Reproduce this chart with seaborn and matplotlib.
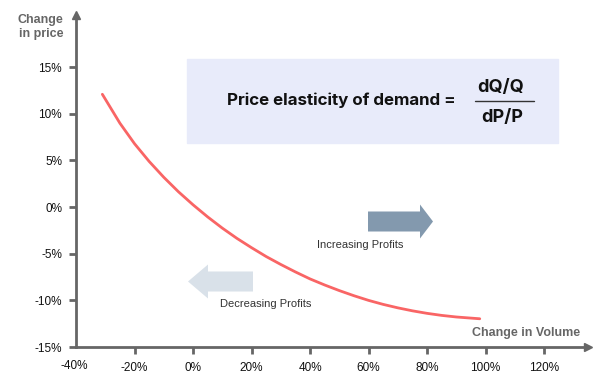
import matplotlib
matplotlib.use("Agg")
import matplotlib.pyplot as plt
from matplotlib.patches import FancyArrow, Rectangle
import seaborn as sns
import pandas as pd

# values
volume_change = [-31, -25, -20, -15, -10, -5, 0, 5, 10, 15, 20, 25, 30, 35, 40,
                 45, 50, 55, 60, 65, 70, 75, 80, 85, 90, 95, 98]
price_change = [12.1, 9.0, 6.8, 4.9, 3.2, 1.65, 0.25, -1.05, -2.25, -3.35, -4.35,
                -5.3, -6.15, -6.95, -7.7, -8.35, -8.95, -9.5, -10.0, -10.43, -10.8,
                -11.12, -11.39, -11.61, -11.78, -11.9, -11.97]

x_ticks = [-40, -20, 0, 20, 40, 60, 80, 100, 120]
y_ticks = [-15, -10, -5, 0, 5, 10, 15]

df = pd.DataFrame({"volume": volume_change, "price": price_change})

sns.set_style("white")
plt.rcParams["font.family"] = ["Liberation Sans", "DejaVu Sans"]
plt.rcParams["xtick.bottom"] = True
plt.rcParams["ytick.left"] = True

axis_col = "#666666"

fig = plt.figure(figsize=(6, 3.8), dpi=100)
ax = fig.add_axes([0.1267, 0.0868, 0.98 - 0.1267, 0.9605 - 0.0868])

sns.lineplot(data=df, x="volume", y="price", ax=ax, color="#F96565", linewidth=2)

ax.set_xlim(-40, 135)
ax.set_ylim(-15, 20.6)
ax.set_xticks(x_ticks[1:])
ax.set_xticklabels([f"{v}%" for v in x_ticks[1:]])
ax.set_yticks(y_ticks)
ax.set_yticklabels([f"{v}%" for v in y_ticks])
ax.set_xlabel("")
ax.set_ylabel("")
ax.tick_params(axis="both", bottom=True, left=True, length=5, width=2, color=axis_col,
               labelsize=8.5, labelcolor="#111111", direction="out", pad=5)
ax.tick_params(axis="x", pad=6)

for side in ["top", "right"]:
    ax.spines[side].set_visible(False)
for side in ["left", "bottom"]:
    ax.spines[side].set_color(axis_col)
    ax.spines[side].set_linewidth(2)

# axis arrowheads
ax.plot(1, 0, ">", color=axis_col, markersize=6, transform=ax.transAxes, clip_on=False)
ax.plot(0, 1, "^", color=axis_col, markersize=6, transform=ax.transAxes, clip_on=False)

# -40% label sits at the corner
fig.text(0.1233, 1 - 366 / 380, "-40%", ha="center", va="center", fontsize=8.5, color="#111111")

fig.text(0.068, 1 - 27 / 380, "Change\nin price", ha="center", va="center",
         fontsize=9, fontweight="bold", color=axis_col, linespacing=1.2)
fig.text(580 / 600, 1 - 333 / 380, "Change in Volume", ha="right", va="center",
         fontsize=9, fontweight="bold", color=axis_col)

# formula box
fig.patches.append(Rectangle((187 / 600, 1 - 143 / 380), 371 / 600, 84 / 380,
                             transform=fig.transFigure, color="#E8EBFA", zorder=0))
fig.text(341 / 600, 1 - 100 / 380, "Price elasticity of demand =", ha="center", va="center",
         fontsize=12.2, fontweight="bold", color="#111111", family=["Inter", "DejaVu Sans"])
fig.text(501 / 600, 1 - 87 / 380, "dQ/Q", ha="center", va="center",
         fontsize=13, fontweight="bold", color="#111111", family=["Inter", "DejaVu Sans"])
fig.text(502 / 600, 1 - 117 / 380, "dP/P", ha="center", va="center",
         fontsize=13, fontweight="bold", color="#111111", family=["Inter", "DejaVu Sans"])
fig.add_artist(plt.Line2D([475 / 600, 534 / 600], [1 - 101 / 380, 1 - 101 / 380],
                          transform=fig.transFigure, color="#333333", linewidth=1))

# profit arrows (inches from bottom-left)
fig.patches.append(FancyArrow(3.68, 3.80 - 2.215, 0.65, 0, width=0.20, head_width=0.34,
                              head_length=0.13, length_includes_head=True,
                              transform=fig.dpi_scale_trans, color="#8399AE", linewidth=0))
fig.patches.append(FancyArrow(2.53, 3.80 - 2.815, -0.65, 0, width=0.20, head_width=0.34,
                              head_length=0.20, length_includes_head=True,
                              transform=fig.dpi_scale_trans, color="#D9E1E9", linewidth=0))

fig.text(360 / 600, 1 - 245 / 380, "Increasing Profits", ha="center", va="center",
         fontsize=8, color="#333333")
fig.text(266 / 600, 1 - 304 / 380, "Decreasing Profits", ha="center", va="center",
         fontsize=8, color="#333333")

fig.savefig("out.png", dpi=100)
